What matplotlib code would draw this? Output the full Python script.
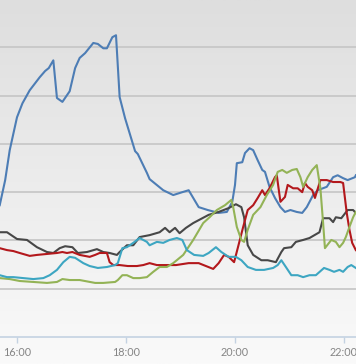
import matplotlib
matplotlib.use("Agg")
import matplotlib.pyplot as plt
import matplotlib.dates as mdates
import numpy as np
import pandas as pd

# valores (hora, valor)
azul_horas = ["15:41", "15:47", "15:52", "16:00", "16:06", "16:14", "16:25", "16:31", "16:35", "16:40",
              "16:44", "16:50", "16:58", "17:04", "17:09", "17:15", "17:24", "17:29", "17:35", "17:39",
              "17:45", "17:49", "17:53", "17:59", "18:10", "18:13", "18:23", "18:26", "18:41", "18:52",
              "19:02", "19:09", "19:20", "19:30", "19:42", "19:51", "19:57", "20:00", "20:02", "20:08",
              "20:11", "20:16", "20:20", "20:25", "20:30", "20:33", "20:38", "20:44", "20:50", "20:55",
              "21:01", "21:08", "21:14", "21:19", "21:26", "21:31", "21:41", "21:48", "21:53", "21:59",
              "22:04", "22:12", "22:13"]
azul_valores = [27.3, 32.5, 38.7, 45.5, 48.4, 51.1, 53.8, 55.1, 55.7, 57.3,
                49.5, 48.7, 50.9, 55.7, 57.8, 58.8, 60.9, 60.7, 59.8, 59.8,
                62.1, 62.5, 49.7, 45.3, 38.5, 37.9, 34.0, 32.7, 30.4, 29.4,
                30.0, 30.4, 26.9, 26.3, 25.7, 25.9, 28.0, 31.5, 36.0, 36.2,
                38.1, 39.1, 38.7, 36.6, 34.6, 34.2, 31.1, 28.8, 26.9, 25.9,
                26.3, 25.9, 25.7, 26.9, 29.4, 30.4, 31.1, 33.1, 33.5, 32.9,
                32.5, 33.1, 33.5]

cinza_horas = ["15:41", "15:49", "16:00", "16:11", "16:22", "16:33", "16:40", "16:47", "16:53", "17:01",
               "17:07", "17:17", "17:28", "17:35", "17:42", "17:50", "17:53", "18:01", "18:08", "18:15",
               "18:26", "18:37", "18:43", "18:48", "18:54", "18:59", "19:06", "19:14", "19:20", "19:31",
               "19:42", "19:53", "20:01", "20:07", "20:10", "20:14", "20:20", "20:29", "20:36", "20:45",
               "20:51", "20:54", "21:02", "21:07", "21:15", "21:22", "21:33", "21:37", "21:44", "21:48",
               "21:51", "21:57", "22:04", "22:10", "22:13"]
cinza_valores = [21.7, 21.7, 20.3, 20.1, 18.6, 17.6, 17.4, 18.4, 18.8, 18.6,
                 17.4, 17.6, 18.2, 17.6, 17.4, 17.0, 17.6, 19.0, 19.0, 20.7,
                 21.1, 21.7, 22.6, 21.7, 22.6, 21.5, 22.6, 23.6, 24.2, 25.3,
                 25.9, 26.7, 27.5, 26.9, 24.8, 19.0, 17.0, 15.9, 15.9, 15.5,
                 17.6, 18.4, 18.6, 19.7, 20.1, 20.5, 21.7, 24.6, 24.6, 23.8,
                 24.8, 24.6, 26.3, 26.3, 25.7]

vermelho_horas = ["15:41", "15:49", "15:56", "16:03", "16:14", "16:22", "16:33", "16:44", "16:50", "16:55",
                  "17:01", "17:09", "17:20", "17:26", "17:31", "17:39", "17:42", "17:46", "17:53", "18:02",
                  "18:12", "18:19", "18:26", "18:34", "18:41", "18:55", "19:09", "19:20", "19:28", "19:36",
                  "19:42", "19:48", "19:53", "19:59", "20:03", "20:09", "20:14", "20:20", "20:25", "20:30",
                  "20:33", "20:38", "20:44", "20:46", "20:50", "20:55", "20:58", "21:04", "21:09", "21:14",
                  "21:17", "21:20", "21:25", "21:28", "21:34", "21:41", "21:48", "21:56", "21:59", "22:03",
                  "22:06", "22:09", "22:13"]
vermelho_valores = [18.4, 18.0, 17.8, 17.4, 16.8, 17.0, 17.2, 17.4, 17.6, 17.4,
                    17.6, 17.0, 16.6, 17.0, 17.4, 17.4, 15.5, 14.9, 14.9, 14.7,
                    14.7, 14.9, 15.3, 14.9, 14.9, 14.9, 15.3, 15.3, 14.7, 14.1,
                    15.3, 17.0, 16.6, 15.5, 18.4, 22.8, 26.3, 27.3, 28.8, 30.4,
                    29.4, 30.8, 33.1, 33.5, 28.0, 29.0, 31.5, 30.8, 30.8, 30.0,
                    31.9, 31.1, 30.4, 28.8, 32.5, 32.5, 32.1, 32.1, 31.9, 25.7,
                    22.2, 19.5, 18.0]

ciano_horas = ["15:41", "15:49", "15:56", "16:07", "16:18", "16:29", "16:36", "16:44", "16:51", "16:58",
               "17:04", "17:13", "17:20", "17:29", "17:39", "17:48", "17:51", "17:56", "18:01", "18:08",
               "18:15", "18:23", "18:26", "18:34", "18:41", "18:48", "18:56", "19:02", "19:07", "19:15",
               "19:25", "19:31", "19:39", "19:45", "19:53", "20:01", "20:07", "20:14", "20:23", "20:32",
               "20:42", "20:47", "20:51", "20:56", "21:02", "21:09", "21:15", "21:22", "21:29", "21:38",
               "21:44", "21:49", "21:55", "21:59", "22:04", "22:08", "22:13"]
ciano_valores = [12.8, 12.4, 12.4, 12.2, 12.0, 12.2, 12.8, 13.9, 15.5, 16.6,
                 16.4, 15.3, 14.7, 14.3, 14.5, 14.9, 15.3, 18.4, 18.6, 19.5,
                 20.5, 19.7, 19.0, 19.7, 19.5, 20.1, 20.5, 20.1, 18.0, 17.0,
                 16.8, 17.4, 18.6, 17.6, 16.6, 16.6, 15.9, 14.5, 13.9, 13.9,
                 14.3, 14.9, 15.9, 14.5, 12.8, 12.8, 12.4, 12.8, 12.8, 14.3,
                 13.9, 13.5, 13.9, 13.5, 14.5, 14.9, 14.3]

verde_horas = ["15:41", "15:52", "16:03", "16:18", "16:33", "16:44", "16:50", "16:58", "17:09", "17:26",
               "17:35", "17:48", "17:51", "17:56", "18:01", "18:08", "18:15", "18:23", "18:30", "18:37",
               "18:45", "18:52", "19:03", "19:14", "19:25", "19:32", "19:40", "19:49", "19:56", "19:58",
               "20:02", "20:07", "20:10", "20:14", "20:20", "20:28", "20:35", "20:42", "20:47", "20:52",
               "20:57", "21:03", "21:08", "21:12", "21:15", "21:20", "21:25", "21:30", "21:34", "21:37",
               "21:39", "21:46", "21:51", "21:55", "21:59", "22:02", "22:06", "22:10", "22:13"]
verde_valores = [12.2, 12.0, 11.6, 11.4, 11.2, 11.4, 12.0, 11.8, 11.8, 11.2,
                 11.2, 11.4, 11.8, 12.8, 12.8, 12.2, 12.2, 12.4, 13.5, 14.5,
                 14.5, 15.3, 17.0, 20.1, 23.6, 24.8, 26.3, 27.3, 28.4, 26.9,
                 22.8, 20.1, 19.7, 22.2, 25.3, 26.9, 29.4, 31.5, 34.2, 34.6,
                 34.0, 34.6, 34.8, 33.1, 31.1, 33.1, 34.6, 35.6, 30.8, 23.6,
                 18.4, 20.1, 19.7, 18.6, 19.5, 20.7, 22.8, 24.8, 25.9]

series = [
    (azul_horas, azul_valores, "#4d7db5"),
    (cinza_horas, cinza_valores, "#474747"),
    (vermelho_horas, vermelho_valores, "#b3181c"),
    (verde_horas, verde_valores, "#93b356"),
    (ciano_horas, ciano_valores, "#3da6c2"),
]


def para_data(horas):
    return pd.to_datetime(["2024-01-01 " + h for h in horas])


fig = plt.figure(figsize=(3.56, 3.64), dpi=100)

# fundo em degradê
fundo = fig.add_axes([0, 0, 1, 1], zorder=0)
grad = np.linspace(0, 1, 256).reshape(-1, 1)
cores = np.empty((256, 1, 3))
topo = np.array([222, 222, 222]) / 255
base = np.array([250, 250, 250]) / 255
cores[:, 0, :] = topo + (base - topo) * grad
fundo.imshow(cores, aspect="auto", extent=[0, 1, 0, 1], origin="upper")
fundo.axis("off")

ax = fig.add_axes([0, 27 / 364, 1, 337 / 364], zorder=1)
ax.set_facecolor("none")

for horas, valores, cor in series:
    ax.plot(para_data(horas), valores, color=cor, linewidth=1.5, solid_joinstyle="round")

inicio = pd.Timestamp("2024-01-01 16:00") - pd.Timedelta(minutes=18.7)
fim = pd.Timestamp("2024-01-01 16:00") + pd.Timedelta(minutes=373.2)
ax.set_xlim(inicio, fim)
ax.set_ylim(0, 69.8)

ax.set_yticks([10, 20, 30, 40, 50, 60])
ax.yaxis.grid(True, color="#c8c8c8", linewidth=1.3)
ax.set_axisbelow(True)
ax.tick_params(axis="y", left=False, labelleft=False)

ax.xaxis.set_major_locator(mdates.HourLocator(byhour=[16, 18, 20, 22]))
ax.xaxis.set_major_formatter(mdates.DateFormatter("%H:%M"))
ax.tick_params(axis="x", colors="#c4d2e2", length=4, width=1, pad=3,
               labelcolor="#858585", labelsize=7.8)
for lbl in ax.get_xticklabels():
    lbl.set_fontfamily("Lato")

for lado in ["top", "left", "right"]:
    ax.spines[lado].set_visible(False)
ax.spines["bottom"].set_color("#c4d2e2")
ax.spines["bottom"].set_linewidth(1.2)

fig.savefig("out.png", dpi=100)
plt.close(fig)
